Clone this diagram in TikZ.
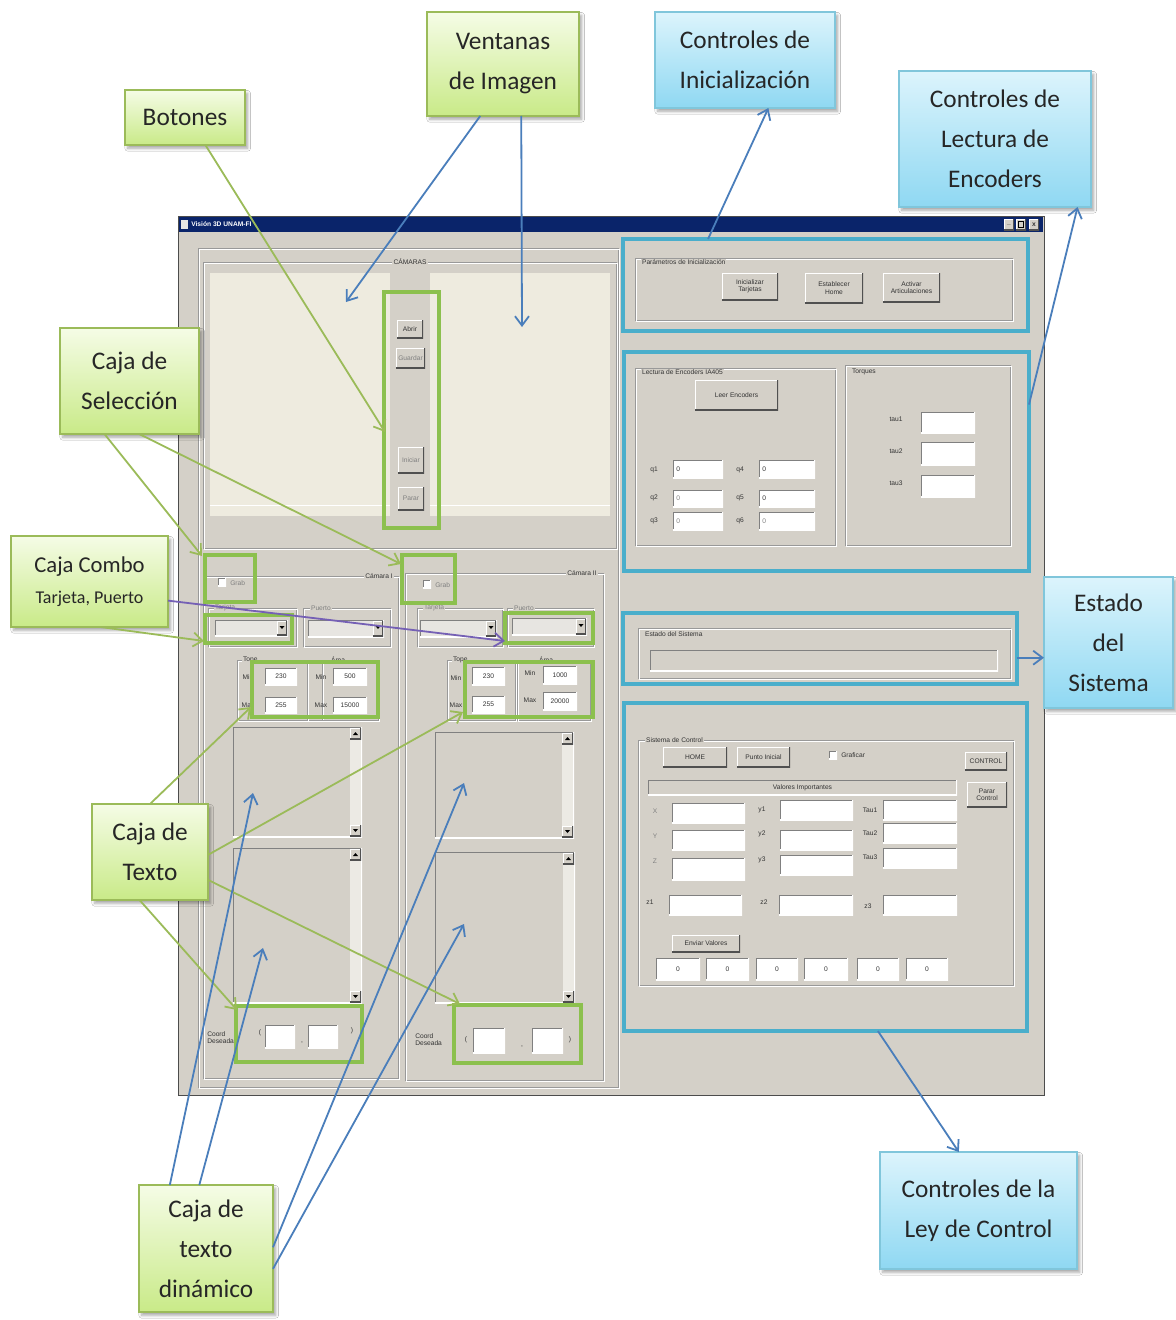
\documentclass[tikz,border=0pt]{standalone}
\usepackage{fontspec}
\setmainfont{Liberation Sans}
\newfontfamily\calibri{Carlito}
\usetikzlibrary{arrows.meta,calc,shadows.blur}

\definecolor{winbg}{HTML}{D4D0C8}
\definecolor{imgbg}{HTML}{EEEBDF}
\definecolor{titlebar}{HTML}{0A246A}
\definecolor{hlgreen}{HTML}{8CC04E}
\definecolor{hlblue}{HTML}{4AAECB}
\definecolor{arblue}{HTML}{4A7EBB}
\definecolor{argreen}{HTML}{9BBB59}
\definecolor{arpurple}{HTML}{7560B5}
\definecolor{gtop}{HTML}{F5FCE6}
\definecolor{gbot}{HTML}{C9EA88}
\definecolor{btop}{HTML}{DCF4FC}
\definecolor{bbot}{HTML}{8FD8F2}
\definecolor{dkshade}{HTML}{505050}
\definecolor{ltrack}{HTML}{ECEAE4}

\tikzset{
  callg/.style={draw=argreen, line width=0.8pt, top color=gtop, bottom color=gbot,
    blur shadow={shadow xshift=2pt, shadow yshift=-2.5pt, shadow opacity=35},
    font=\calibri\fontsize{19}{30}\selectfont, align=center, text=black!85},
  callb/.style={draw=hlblue!70, line width=0.8pt, top color=btop, bottom color=bbot,
    blur shadow={shadow xshift=2pt, shadow yshift=-2.5pt, shadow opacity=35},
    font=\calibri\fontsize{19}{30}\selectfont, align=center, text=black!85},
  hlg/.style={draw=hlgreen, line width=3.6pt},
  hlb/.style={draw=hlblue, line width=3.6pt},
  ptr/.style={line width=1.35pt, -{Straight Barb[length=7pt,width=10.5pt]}},
  ptrb/.style={ptr, draw=arblue},
  ptrg/.style={ptr, draw=argreen},
  ptrp/.style={ptr, draw=arpurple},
  gui/.style={font=\fontsize{5}{5.6}\selectfont, text=black!80, inner sep=0pt, align=center},
  winbtn/.style={fill=winbg, path picture={
    \draw[white, line width=1.6pt] (path picture bounding box.south west) -- (path picture bounding box.north west) -- (path picture bounding box.north east);
    \draw[dkshade, line width=1.6pt] (path picture bounding box.south west) -- (path picture bounding box.south east) -- (path picture bounding box.north east);}},
  field/.style={fill=white, path picture={
    \draw[gray, line width=1.6pt] (path picture bounding box.south west) -- (path picture bounding box.north west) -- (path picture bounding box.north east);
    \draw[white, line width=1.2pt] (path picture bounding box.south west) -- (path picture bounding box.south east) -- (path picture bounding box.north east);}},
}

% rectangle node from its two corners: name, style, x1, y1, x2, y2, text
\newcommand\R[7]{\node[#2, anchor=north west, inner sep=0pt, outer sep=0pt,
  minimum width={((#5)-(#3))*0.75pt}, minimum height={((#6)-(#4))*0.75pt}] (#1) at (#3,#4) {#7};}
% small interface label
\newcounter{tc}
\newcommand\T[4][]{\stepcounter{tc}\node[gui,#1] (t\arabic{tc}) at (#2,#3) {#4};}
% etched group frame
\newcommand\G[4]{\draw[gray!80] (#1,#2) rectangle (#3,#4); \draw[white] (#1+1,#2+1) rectangle (#3+1,#4+1);}
% multi-line text area with a vertical scroll bar
\newcommand\TA[5]{%
  \R{#1}{field, fill=winbg}{#2}{#3}{#4}{#5}{}
  \fill[ltrack] (#4-12,#3+1) rectangle (#4-1,#5-1);
  \R{#1u}{winbtn}{#4-12}{#3+1}{#4-1}{#3+12}{}
  \R{#1d}{winbtn}{#4-12}{#5-12}{#4-1}{#5-1}{}
  \fill[black] (#4-9,#3+8) -- (#4-4,#3+8) -- (#4-6.5,#3+5) -- cycle;
  \fill[black] (#4-9,#5-8) -- (#4-4,#5-8) -- (#4-6.5,#5-5) -- cycle;}
% combo box with its drop-down button
\newcommand\CB[5]{%
  \R{#1}{field, fill=white!45!winbg}{#2}{#3}{#4}{#5}{}
  \R{#1b}{winbtn}{#4-11}{#3+1}{#4-1}{#5-1}{}
  \fill[black] (#4-8.5,#3+6) -- (#4-3.5,#3+6) -- (#4-6,#3+9) -- cycle;}
% check box
\newcommand\CK[3]{\R{#1}{field}{#2}{#3}{#2+8}{#3+8}{}}

\begin{document}
\begin{tikzpicture}[x=0.75pt, y=-0.75pt]
\useasboundingbox (0,0) rectangle (1176,1320);
\fill[white] (0,0) rectangle (1176,1320);

% ---------- application window ----------
\R{win}{fill=winbg, draw=gray!60!black, line width=0.6pt}{178}{216}{1044}{1095}{}
\R{tbar}{fill=titlebar}{179}{217}{1043}{232}{}
\node[font=\bfseries\fontsize{5}{6}\selectfont, text=white, anchor=west, inner sep=0pt] (ttl) at (191,224.5) {Visión 3D UNAM-FI};
\fill[white!80!gray] (181,220) rectangle (188,229);
\R{bmin}{winbtn, gui}{1004}{219}{1014}{230}{\textbf{\_}}
\R{bmax}{winbtn}{1016}{219}{1026}{230}{}
\draw[black, line width=0.5pt] (1018.5,221.5) rectangle (1023.5,227.5);
\R{bcls}{winbtn, gui}{1029}{219}{1039}{230}{\textbf{x}}
\G{198}{248}{618}{1087}

% ---------- cameras ----------
\G{203}{262}{616}{548}
\R{imgL}{fill=imgbg}{210}{273}{390}{516}{}
\R{imgR}{fill=imgbg}{430}{273}{610}{516}{}
\draw[white] (210,505) -- (390,505) (430,505) -- (610,505);
\T[fill=winbg, inner sep=0.8pt]{410}{262}{CÁMARAS}
\R{bAbrir}{winbtn, gui}{397}{320}{423}{338}{Abrir}
\R{bGuardar}{winbtn, gui, text=gray}{396}{348}{425}{368}{Guardar}
\R{bIniciar}{winbtn, gui, text=gray}{398}{447}{424}{473}{Iniciar}
\R{bParar}{winbtn, gui, text=gray}{398}{487}{424}{510}{Parar}

% camera I
\G{203}{576}{398}{1078}
\T[fill=winbg, inner sep=0.8pt, anchor=east]{394}{576}{Cámara I}
\CK{ck1}{218}{578}\T[anchor=west, text=gray]{230}{583}{Grab}
\G{208}{608}{296}{646}\T[fill=winbg, inner sep=0.6pt, anchor=west, text=gray]{214}{608}{Tarjeta}
\CB{cb1}{215}{620}{288}{636}
\G{303}{608}{390}{646}\T[fill=winbg, inner sep=0.6pt, anchor=west, text=gray]{310}{608}{Puerto}
\CB{cb2}{308}{620}{384}{637}
\G{237}{660}{322}{720}\T[fill=winbg, inner sep=0.6pt, anchor=west]{242}{660}{Tope}
\G{307}{660}{378}{720}\T[fill=winbg, inner sep=0.6pt, anchor=west]{330}{660}{Área}
\T{248}{677}{Min}\T{248}{705}{Max}
\R{f1a}{field, gui}{265}{668}{297}{685}{230}
\R{f1b}{field, gui}{265}{697}{297}{713}{255}
\T{321}{677}{Min}\T{321}{705}{Max}
\R{f1c}{field, gui}{333}{668}{367}{685}{500}
\R{f1d}{field, gui}{333}{697}{367}{713}{15000}
\TA{ta1}{233}{727}{362}{837}
\TA{ta2}{233}{848}{362}{1003}
\T[anchor=north west, align=left]{207}{1031}{Coord\\Deseada}
\T{260}{1033}{(}\T{302}{1043}{,}\T{352}{1031}{)}
\R{c1a}{field}{265}{1025}{295}{1048}{}
\R{c1b}{field}{308}{1025}{338}{1048}{}

% camera II
\G{405}{573}{603}{1080}
\T[fill=winbg, inner sep=0.8pt, anchor=east]{598}{573}{Cámara II}
\CK{ck2}{423}{580}\T[anchor=west, text=gray]{435}{585}{Grab}
\G{417}{608}{502}{646}\T[fill=winbg, inner sep=0.6pt, anchor=west, text=gray]{423}{608}{Tarjeta}
\CB{cb3}{420}{620}{497}{637}
\G{507}{608}{593}{646}\T[fill=winbg, inner sep=0.6pt, anchor=west, text=gray]{513}{608}{Puerto}
\CB{cb4}{512}{618}{587}{635}
\G{447}{660}{515}{720}\T[fill=winbg, inner sep=0.6pt, anchor=west]{452}{660}{Tope}
\G{517}{660}{590}{720}\T[fill=winbg, inner sep=0.6pt, anchor=west]{538}{660}{Área}
\T{456}{678}{Min}\T{456}{705}{Max}
\R{f2a}{field, gui}{472}{667}{505}{685}{230}
\R{f2b}{field, gui}{472}{696}{505}{713}{255}
\T{530}{673}{Min}\T{530}{700}{Max}
\R{f2c}{field, gui}{543}{666}{577}{684}{1000}
\R{f2d}{field, gui}{543}{692}{577}{710}{20000}
\TA{ta3}{435}{732}{574}{838}
\TA{ta4}{435}{852}{575}{1003}
\T[anchor=north west, align=left]{415}{1033}{Coord\\Deseada}
\T{466}{1040}{(}\T{522}{1047}{,}\T{570}{1040}{)}
\R{c2a}{field}{473}{1028}{505}{1053}{}
\R{c2b}{field}{532}{1028}{563}{1053}{}

% ---------- initialisation ----------
\G{635}{258}{1012}{320}
\T[fill=winbg, inner sep=0.6pt, anchor=west]{641}{262}{Parámetros de Inicialización}
\R{bIni}{winbtn, gui}{722}{273}{778}{300}{Inicializar\\Tarjetas}
\R{bHome}{winbtn, gui}{805}{273}{863}{303}{Establecer\\Home}
\R{bArt}{winbtn, gui}{883}{273}{940}{302}{Activar\\Articulaciones}

% ---------- encoders ----------
\G{635}{368}{835}{545}
\T[fill=winbg, inner sep=0.6pt, anchor=west]{641}{372}{Lectura de Encoders IA405}
\R{bLeer}{winbtn, gui}{695}{380}{778}{410}{Leer Encoders}
\T{654}{470}{q1}\T{654}{498}{q2}\T{654}{521}{q3}
\T{740}{470}{q4}\T{740}{498}{q5}\T{740}{521}{q6}
\R{q1}{field}{673}{460}{723}{478}{}\T[anchor=west]{676}{469}{0}
\R{q2}{field}{673}{490}{723}{507}{}\T[anchor=west, text=gray]{676}{498}{0}
\R{q3}{field}{673}{512}{723}{530}{}\T[anchor=west, text=gray]{676}{521}{0}
\R{q4}{field}{759}{460}{815}{478}{}\T[anchor=west]{762}{469}{0}
\R{q5}{field}{759}{490}{815}{507}{}\T[anchor=west]{762}{498}{0}
\R{q6}{field}{759}{512}{815}{530}{}\T[anchor=west, text=gray]{762}{521}{0}
\G{845}{365}{1010}{545}
\T[fill=winbg, inner sep=0.6pt, anchor=west]{851}{372}{Torques}
\T{896}{419}{tau1}\T{896}{451}{tau2}\T{896}{483}{tau3}
\R{tau1}{field}{921}{412}{975}{433}{}
\R{tau2}{field}{921}{442}{975}{465}{}
\R{tau3}{field}{921}{475}{975}{497}{}

% ---------- system state ----------
\G{638}{628}{1010}{678}
\T[fill=winbg, inner sep=0.6pt, anchor=west]{644}{634}{Estado del Sistema}
\R{fest}{field, fill=winbg}{650}{650}{998}{671}{}

% ---------- control system ----------
\G{638}{740}{1013}{985}
\T[fill=winbg, inner sep=0.6pt, anchor=west]{645}{740}{Sistema de Control}
\R{bHOME}{winbtn, gui}{663}{747}{727}{767}{HOME}
\R{bPunto}{winbtn, gui}{737}{747}{790}{767}{Punto Inicial}
\CK{ck3}{829}{751}\T[anchor=west]{841}{755}{Graficar}
\R{bCtl}{winbtn, gui}{965}{752}{1007}{770}{CONTROL}
\R{bPar}{winbtn, gui}{967}{782}{1007}{807}{Parar\\Control}
\R{vimp}{field, fill=winbg, gui}{648}{780}{957}{795}{Valores Importantes}
\T[text=gray]{655}{811}{X}\T[text=gray]{655}{836}{Y}\T[text=gray]{655}{861}{Z}
\R{fx}{field}{672}{803}{745}{823}{}
\R{fy}{field}{672}{830}{745}{850}{}
\R{fz}{field}{672}{858}{745}{880}{}
\T{762}{810}{y1}\T{762}{834}{y2}\T{762}{860}{y3}
\R{fy1}{field}{780}{800}{853}{820}{}
\R{fy2}{field}{780}{830}{853}{850}{}
\R{fy3}{field}{780}{855}{853}{875}{}
\T{870}{810}{Tau1}\T{870}{833}{Tau2}\T{870}{857}{Tau3}
\R{ft1}{field}{883}{800}{957}{820}{}
\R{ft2}{field}{883}{823}{957}{843}{}
\R{ft3}{field}{883}{848}{957}{868}{}
\T{650}{902}{z1}\T{764}{902}{z2}\T{868}{906}{z3}
\R{fz1}{field}{669}{895}{742}{915}{}
\R{fz2}{field}{779}{895}{853}{915}{}
\R{fz3}{field}{883}{895}{957}{915}{}
\R{bEnv}{winbtn, gui}{672}{935}{740}{952}{Enviar Valores}
\R{o1}{field, gui}{656}{958}{700}{980}{0}
\R{o2}{field, gui}{706}{958}{749}{980}{0}
\R{o3}{field, gui}{756}{958}{798}{980}{0}
\R{o4}{field, gui}{804}{958}{848}{980}{0}
\R{o5}{field, gui}{857}{958}{899}{980}{0}
\R{o6}{field, gui}{906}{958}{948}{980}{0}

% ---------- highlighted regions ----------
\R{hlBtn}{hlg}{384}{292}{439}{528}{}
\R{hlGrab1}{hlg}{205}{555}{255}{602}{}
\R{hlGrab2}{hlg}{402}{555}{455}{603}{}
\R{hlCb1}{hlg}{205}{615}{292}{643}{}
\R{hlCb2}{hlg}{505}{613}{593}{643}{}
\R{hlTp1}{hlg}{252}{662}{378}{717}{}
\R{hlTp2}{hlg}{465}{662}{593}{717}{}
\R{hlCo1}{hlg}{236}{1006}{362}{1062}{}
\R{hlCo2}{hlg}{454}{1005}{581}{1063}{}
\R{hlInit}{hlb}{623}{239}{1028}{331}{}
\R{hlEnc}{hlb}{624}{352}{1029}{571}{}
\R{hlEst}{hlb}{623}{613}{1017}{684}{}
\R{hlCtl}{hlb}{624}{703}{1027}{1031}{}

% ---------- callouts ----------
\R{botones}{callg}{125}{90}{245}{145}{Botones}
\R{ventanas}{callg}{427}{12}{579}{116}{Ventanas\\de Imagen}
\R{ctrlinit}{callb}{655}{12}{835}{108}{Controles de\\Inicialización}
\R{ctrlenc}{callb}{899}{71}{1091}{207}{Controles de\\Lectura de\\Encoders}
\R{cajasel}{callg}{60}{328}{199}{434}{Caja de\\Selección}
\R{cajacombo}{callg}{11}{536}{168}{627}{\fontsize{17}{24}\selectfont Caja Combo\\[-7pt]\fontsize{13.5}{24}\selectfont Tarjeta, Puerto}
\R{cajatexto}{callg}{92}{804}{208}{900}{Caja de\\Texto}
\R{estado}{callb}{1044}{577}{1173}{708}{Estado\\del\\Sistema}
\R{ctrlley}{callb}{880}{1152}{1077}{1269}{Controles de la\\Ley de Control}
\R{cajadin}{callg}{139}{1185}{273}{1312}{Caja de\\texto\\dinámico}

% ---------- pointer ends ----------
\coordinate (tVL) at (346,302);
\coordinate (tVR) at (522,327);
\coordinate (tBot) at (385,432);
\coordinate (tGr1) at (202,556);
\coordinate (tGr2) at (401,564);
\coordinate (tCb1) at (204,641);
\coordinate (tCb2) at (505,641);
\coordinate (tTp1) at (251,707);
\coordinate (tTp2) at (463,712);
\coordinate (tCo1) at (237,1010);
\coordinate (tCo2) at (460,1004);
\coordinate (tD1) at (253,793);
\coordinate (tD2) at (263,948);
\coordinate (tD3) at (464,783);
\coordinate (tD4) at (464,924);

% ---------- pointers ----------
\draw[ptrb] ($(ventanas.south west)!0.35!(ventanas.south east)$) -- (tVL);
\draw[ptrb] ($(ventanas.south west)!0.62!(ventanas.south east)$) -- (tVR);
\draw[ptrg] ($(botones.south west)!0.67!(botones.south east)$) -- (tBot);
\draw[ptrb] ($(hlInit.north west)!0.21!(hlInit.north east)$) -- ($(ctrlinit.south west)!0.63!(ctrlinit.south east)$);
\draw[ptrb] ($(hlEnc.north east)!0.24!(hlEnc.south east)$) -- ($(ctrlenc.south west)!0.93!(ctrlenc.south east)$);
\draw[ptrg] ($(cajasel.south west)!0.32!(cajasel.south east)$) -- (tGr1);
\draw[ptrg] ($(cajasel.south west)!0.57!(cajasel.south east)$) -- (tGr2);
\draw[ptrg] ($(cajacombo.south west)!0.57!(cajacombo.south east)$) -- (tCb1);
\draw[ptrp] ($(cajacombo.north east)!0.71!(cajacombo.south east)$) -- (tCb2);
\draw[ptrg] ($(cajatexto.north west)!0.5!(cajatexto.north east)$) -- (tTp1);
\draw[ptrg] ($(cajatexto.north east)!0.53!(cajatexto.south east)$) -- (tTp2);
\draw[ptrg] ($(cajatexto.south west)!0.41!(cajatexto.south east)$) -- (tCo1);
\draw[ptrg] ($(cajatexto.north east)!0.79!(cajatexto.south east)$) -- (tCo2);
\coordinate (eS) at ($(hlEst.north east)!0.63!(hlEst.south east)$);
\draw[ptrb] (eS) -- (eS -| estado.west);
\draw[ptrb] ($(hlCtl.south west)!0.63!(hlCtl.south east)$) -- ($(ctrlley.north west)!0.4!(ctrlley.north east)$);
\draw[ptrb] ($(cajadin.north west)!0.23!(cajadin.north east)$) -- (tD1);
\draw[ptrb] ($(cajadin.north west)!0.45!(cajadin.north east)$) -- (tD2);
\draw[ptrb] ($(cajadin.north east)!0.49!(cajadin.south east)$) -- (tD3);
\draw[ptrb] ($(cajadin.north east)!0.66!(cajadin.south east)$) -- (tD4);
\end{tikzpicture}
\end{document}
